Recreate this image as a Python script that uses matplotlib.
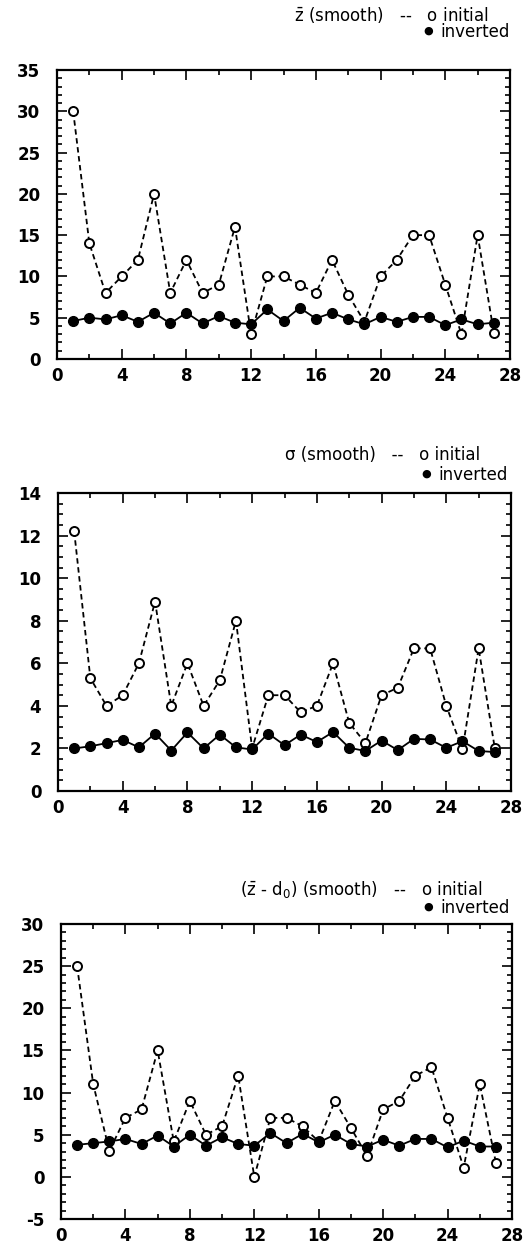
import matplotlib
matplotlib.use("Agg")
import matplotlib.pyplot as plt
from matplotlib.ticker import MultipleLocator

plt.rcParams['font.family'] = ['DejaVu Sans']
plt.rcParams['mathtext.fontset'] = 'dejavusans'
plt.rcParams['axes.unicode_minus'] = False

x = list(range(1, 28))

z_initial = [30, 14, 8, 10, 12, 20, 8, 12, 8, 9, 16, 3, 10, 10, 9, 8, 12, 7.8, 4.5,
             10, 12, 15, 15, 9, 3, 15, 3.2]
z_inverted = [4.6, 5.0, 4.8, 5.3, 4.5, 5.6, 4.3, 5.6, 4.3, 5.2, 4.4, 4.2, 6.0, 4.6,
              6.2, 4.9, 5.6, 4.8, 4.2, 5.1, 4.5, 5.1, 5.1, 4.1, 4.8, 4.2, 4.4]

s_initial = [12.2, 5.3, 4.0, 4.5, 6.0, 8.9, 4.0, 6.0, 4.0, 5.2, 8.0, 2.0, 4.5, 4.5,
             3.7, 4.0, 6.0, 3.2, 2.25, 4.5, 4.85, 6.7, 6.7, 4.0, 1.95, 6.7, 2.0]
s_inverted = [2.0, 2.1, 2.25, 2.4, 2.05, 2.7, 1.9, 2.75, 2.0, 2.65, 2.05, 1.95, 2.7,
              2.15, 2.65, 2.3, 2.77, 2.03, 1.88, 2.37, 1.92, 2.45, 2.42, 2.03, 2.34,
              1.88, 1.83]

d_initial = [25, 11, 3.1, 7, 8, 15, 4.2, 9, 5, 6, 12, 0, 7, 7, 6, 4.2, 9, 5.8, 2.5,
             8, 9, 12, 13, 7, 1.1, 11, 1.7]
d_inverted = [3.8, 4.0, 4.2, 4.5, 3.9, 4.9, 3.6, 5.0, 3.7, 4.7, 3.9, 3.7, 5.2, 4.0,
              5.1, 4.1, 5.0, 3.9, 3.6, 4.4, 3.7, 4.5, 4.5, 3.5, 4.3, 3.6, 3.6]

titles = [r"$\bar{\mathrm{z}}$ (smooth)   --   o initial",
          "\u03c3 (smooth)   --   o initial",
          r"($\bar{\mathrm{z}}$ - d$_0$) (smooth)   --   o initial"]
legend2 = "inverted"
dot = "\u25cf"

W, H = 527, 1255
fig = plt.figure(figsize=(W / 100, H / 100), dpi=100)

# (left, right, top, bottom) in pixels
boxes = [(57, 510, 70, 359), (58, 511, 493, 791), (61, 512, 924, 1219)]
ylims = [(0, 35), (0, 14), (-5, 30)]
ymaj = [5, 2, 5]
ymin = [1, 0.5, 1]
title_y = [(15, 32), (455, 475), (890, 908)]
title_right = [(489, 510), (480, 508), (483, 510)]
series = [(z_initial, z_inverted), (s_initial, s_inverted), (d_initial, d_inverted)]

renderer = fig.canvas.get_renderer()

for i in range(3):
    l, r, t, b = boxes[i]
    ax = fig.add_axes([l / W, 1 - b / H, (r - l) / W, (b - t) / H])
    ini, inv = series[i]
    ax.plot(x, ini, linestyle=(0, (3, 2)), color='black', linewidth=1.3,
            marker='o', markersize=6.5, markerfacecolor='white',
            markeredgecolor='black', markeredgewidth=1.4, zorder=2)
    ax.plot(x, inv, linestyle='-', color='black', linewidth=1.3,
            marker='o', markersize=7, markerfacecolor='black',
            markeredgecolor='black', zorder=3)
    ax.set_xlim(0, 28)
    ax.set_ylim(*ylims[i])
    ax.xaxis.set_major_locator(MultipleLocator(4))
    ax.xaxis.set_minor_locator(MultipleLocator(2))
    ax.yaxis.set_major_locator(MultipleLocator(ymaj[i]))
    ax.yaxis.set_minor_locator(MultipleLocator(ymin[i]))
    ax.tick_params(which='both', direction='in', top=True, right=True,
                   width=1.2, labelsize=12)
    ax.tick_params(which='major', length=7)
    ax.tick_params(which='minor', length=3.5)
    ax.tick_params(axis='y', pad=12)
    ax.tick_params(axis='x', pad=6)
    for lab in ax.get_xticklabels() + ax.get_yticklabels():
        lab.set_fontweight('bold')
    for sp in ax.spines.values():
        sp.set_linewidth(1.6)

    y1, y2 = title_y[i]
    r1, r2 = title_right[i]
    fig.text(r1 / W, 1 - y1 / H, titles[i], ha='right', va='center', fontsize=12)
    t2 = fig.text(r2 / W, 1 - y2 / H, legend2, ha='right', va='center', fontsize=12)
    bb = t2.get_window_extent(renderer=renderer)
    fig.text((bb.x0 - 7) / W, 1 - (y2 - 1) / H, dot, ha='right', va='center',
             fontsize=8)

fig.savefig("out.png", dpi=100)
